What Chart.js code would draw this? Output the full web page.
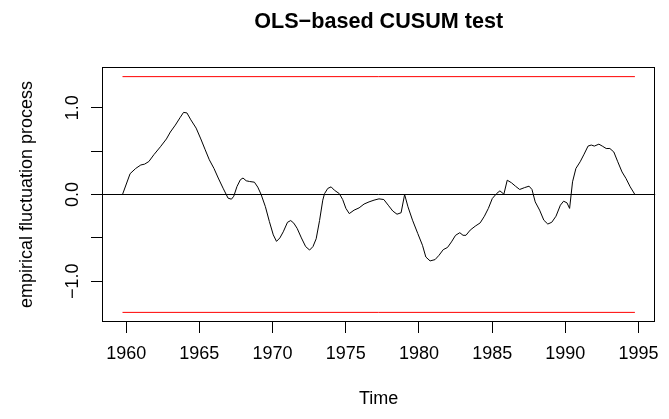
<!DOCTYPE html>
<html>
<head>
<meta charset="utf-8">
<script src="https://cdn.jsdelivr.net/npm/chart.js@4"></script>
<style>
html,body{margin:0;padding:0;background:#fff;}
canvas{display:block;}
</style>
</head>
<body>
<canvas id="c" width="669" height="419"></canvas>
<script>
// ---- data ----
const times = [1959.75,1960.27,1960.65,1961.0,1961.26,1961.55,1961.9,1962.34,1962.75,1963.02,1963.36,1963.7,1963.92,1964.15,1964.42,1964.78,1965.1,1965.4,1965.68,1966.0,1966.29,1966.62,1966.96,1967.19,1967.35,1967.57,1967.8,1967.98,1968.2,1968.43,1968.76,1968.99,1969.22,1969.51,1969.78,1970.05,1970.27,1970.5,1970.73,1971.02,1971.24,1971.45,1971.68,1971.97,1972.26,1972.53,1972.76,1972.98,1973.21,1973.43,1973.55,1973.77,1974.0,1974.22,1974.56,1974.79,1975.01,1975.24,1975.57,1975.91,1976.25,1976.59,1976.93,1977.27,1977.6,1977.9,1978.21,1978.5,1978.78,1979.02,1979.25,1979.56,1979.92,1980.24,1980.47,1980.76,1981.1,1981.37,1981.66,1981.95,1982.22,1982.5,1982.79,1983.01,1983.21,1983.5,1983.84,1984.18,1984.47,1984.74,1985.01,1985.31,1985.53,1985.8,1986.03,1986.32,1986.59,1986.88,1987.22,1987.52,1987.72,1987.94,1988.24,1988.53,1988.8,1989.07,1989.36,1989.66,1989.88,1990.11,1990.29,1990.49,1990.72,1991.01,1991.28,1991.55,1991.77,1991.98,1992.29,1992.52,1992.79,1993.04,1993.31,1993.58,1993.87,1994.14,1994.43,1994.75];
const process = [0,0.24,0.30,0.34,0.35,0.38,0.46,0.55,0.64,0.72,0.80,0.89,0.946,0.94,0.86,0.765,0.64,0.515,0.40,0.30,0.19,0.073,-0.042,-0.054,-0.02,0.092,0.17,0.19,0.158,0.15,0.142,0.085,0,-0.14,-0.31,-0.465,-0.54,-0.50,-0.43,-0.32,-0.30,-0.33,-0.39,-0.50,-0.60,-0.64,-0.60,-0.51,-0.30,-0.065,0.01,0.07,0.088,0.05,0.01,-0.058,-0.16,-0.22,-0.18,-0.154,-0.11,-0.085,-0.065,-0.05,-0.058,-0.123,-0.19,-0.227,-0.21,0.0,-0.142,-0.296,-0.45,-0.585,-0.72,-0.765,-0.75,-0.70,-0.635,-0.61,-0.546,-0.47,-0.44,-0.47,-0.47,-0.41,-0.365,-0.327,-0.25,-0.16,-0.046,0.012,0.042,0.004,0.165,0.135,0.096,0.058,0.08,0.096,0.058,-0.085,-0.18,-0.296,-0.34,-0.32,-0.25,-0.123,-0.077,-0.096,-0.16,0.146,0.30,0.377,0.465,0.558,0.57,0.558,0.58,0.558,0.53,0.53,0.49,0.377,0.26,0.185,0.088,0];
const boundTimes = [1959.75, 1994.75];
const boundary = 1.358;
const xTicks = [1960,1965,1970,1975,1980,1985,1990,1995];
const xTickLabels = ['1960','1965','1970','1975','1980','1985','1990','1995'];
const yTicks = [-1,-0.5,0,0.5,1];
const yLabelValues = [-1,0,1];
const yTickLabels = ['\u22121.0','0.0','1.0'];
const xRange = [1958.35, 1996.15];
const yRange = [-1.4688, 1.4688];

const FONT = '"Liberation Sans", Arial, Helvetica, sans-serif';

const rStyle = {
  id: 'rStyle',
  afterDraw(chart) {
    const {ctx, chartArea: a, scales: {y}} = chart;
    ctx.save();
    ctx.strokeStyle = '#000';
    ctx.lineWidth = 1;
    const L = Math.round(a.left) + 0.5, T = Math.round(a.top) + 0.5;
    const R = Math.round(a.right) - 0.5, B = Math.round(a.bottom) - 0.5;
    ctx.strokeRect(L, T, R - L, B - T);
    ctx.fillStyle = '#000';
    ctx.font = '18px ' + FONT;
    ctx.textAlign = 'center';
    ctx.textBaseline = 'alphabetic';
    yLabelValues.forEach((v, i) => {
      const py = y.getPixelForValue(v);
      ctx.save();
      ctx.translate(77.5, py);
      ctx.rotate(-Math.PI / 2);
      ctx.fillText(yTickLabels[i], 0, 0);
      ctx.restore();
    });
    ctx.restore();
  }
};

new Chart(document.getElementById('c'), {
  type: 'scatter',
  data: {
    datasets: [
      {
        data: xRange.map(t => ({x: t, y: 0})),
        showLine: true, borderColor: '#000', borderWidth: 1, pointRadius: 0
      },
      {
        data: boundTimes.map(t => ({x: t, y: boundary})),
        showLine: true, borderColor: '#FF0000', borderWidth: 1, pointRadius: 0
      },
      {
        data: boundTimes.map(t => ({x: t, y: -boundary})),
        showLine: true, borderColor: '#FF0000', borderWidth: 1, pointRadius: 0
      },
      {
        data: times.map((t, i) => ({x: t, y: process[i]})),
        showLine: true, borderColor: '#000', borderWidth: 1, pointRadius: 0, tension: 0
      }
    ]
  },
  options: {
    responsive: false,
    animation: false,
    layout: {padding: {left: 0, right: 7, top: 0, bottom: 0}},
    plugins: {
      legend: {display: false},
      tooltip: {enabled: false},
      title: {
        display: true,
        text: 'OLS\u2212based CUSUM test',
        fullSize: false,
        color: '#000',
        font: {family: FONT, size: 21.6, weight: 'bold', lineHeight: 1.2},
        padding: {top: 9, bottom: 32.1}
      }
    },
    scales: {
      x: {
        type: 'linear',
        min: xRange[0], max: xRange[1],
        afterBuildTicks: s => { s.ticks = xTicks.map(v => ({value: v})); },
        afterFit: s => { s.height = 97; },
        grid: {display: true, drawOnChartArea: false, drawTicks: true, tickLength: 11, color: '#000', tickColor: '#000'},
        border: {display: false},
        ticks: {
          color: '#000', font: {family: FONT, size: 18}, padding: 10,
          maxRotation: 0, minRotation: 0, autoSkip: false,
          callback: (v) => { const i = xTicks.indexOf(v); return i >= 0 ? xTickLabels[i] : ''; }
        },
        title: {display: true, text: 'Time', color: '#000', font: {family: FONT, size: 18, lineHeight: 1.2}, padding: {top: 0, bottom: 9}}
      },
      y: {
        type: 'linear',
        min: yRange[0], max: yRange[1],
        afterBuildTicks: s => { s.ticks = yTicks.map(v => ({value: v})); },
        afterFit: s => { s.width = 102; },
        grid: {display: true, drawOnChartArea: false, drawTicks: true, tickLength: 11, color: '#000', tickColor: '#000'},
        border: {display: false},
        ticks: {display: false},
        title: {display: true, text: 'empirical fluctuation process', color: '#000', font: {family: FONT, size: 18, lineHeight: 1.2}, padding: {top: 16, bottom: 0}}
      }
    }
  },
  plugins: [rStyle]
});
</script>
</body>
</html>
